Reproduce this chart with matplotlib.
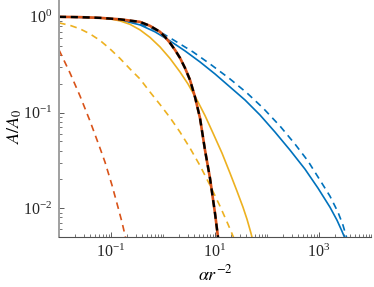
import numpy as np
import matplotlib
matplotlib.use("Agg")
import matplotlib.pyplot as plt
from matplotlib.ticker import LogLocator, LogFormatterMathtext, NullFormatter

plt.rcParams['font.family'] = 'serif'
plt.rcParams['font.serif'] = ['Liberation Serif', 'DejaVu Serif']
plt.rcParams['mathtext.fontset'] = 'stix'
plt.rcParams['axes.unicode_minus'] = False

# values (x = alpha r^-2, y = A/A0)
blue_x = [0.01, 0.0614, 0.149, 0.361, 0.702, 1.363, 2.649, 5.146, 10.0, 19.44, 37.76,
          73.35, 142.5, 276.9, 538, 957, 1627, 2219, 2769, 3093]
blue_y = [1.0, 0.976, 0.930, 0.824, 0.697, 0.561, 0.4406, 0.3379, 0.2530, 0.1849, 0.1352,
          0.0942, 0.0625, 0.0405, 0.0256, 0.0162, 0.01024, 0.00749, 0.00574, 0.00497]

blue_d_x = [0.01, 0.0614, 0.149, 0.361, 0.876, 1.701, 3.775, 8.01, 19.44, 41.25, 83.8,
            177.8, 345.5, 614.4, 1045, 1627, 2320, 2894, 3380]
blue_d_y = [1.0, 0.976, 0.930, 0.845, 0.697, 0.561, 0.43, 0.322, 0.2243, 0.16, 0.1115,
            0.0722, 0.0468, 0.0311, 0.01964, 0.01335, 0.00908, 0.00664, 0.00497]

yel_x = [0.01, 0.03947, 0.0957, 0.149, 0.2319, 0.361, 0.562, 0.876, 1.363, 2.123, 3.026,
         4.507, 6.42, 9.153, 13.63, 19.44, 26.49, 34.55, 41.25, 49.24, 51.46]
yel_y = [1.0, 0.988, 0.953, 0.908, 0.835, 0.731, 0.610, 0.485, 0.3676, 0.2655, 0.1988,
         0.1352, 0.0930, 0.0610, 0.0377, 0.02325, 0.01507, 0.01024, 0.00767, 0.00547, 0.00497]

yel_d_x = [0.01, 0.01628, 0.02535, 0.03947, 0.0614, 0.0957, 0.149, 0.2319, 0.361, 0.562,
           0.876, 1.363, 2.123, 3.305, 5.146, 8.01, 12.48, 17.78, 22.69]
yel_d_y = [0.865, 0.815, 0.749, 0.6637, 0.5674, 0.4623, 0.3676, 0.2854, 0.2243, 0.1639,
           0.1213, 0.0886, 0.0625, 0.0425, 0.02786, 0.0174, 0.0105, 0.0068, 0.00497]

red_d_x = [0.01, 0.01628, 0.02535, 0.03947, 0.0614, 0.0767, 0.1045, 0.1363, 0.1627, 0.19]
red_d_y = [0.451, 0.259, 0.149, 0.0815, 0.0425, 0.0303, 0.0174, 0.01024, 0.00714, 0.00497]

red_x = [0.01, 0.0254, 0.0614, 0.149, 0.361, 0.562, 0.876, 1.093, 1.363, 1.701, 2.123,
         2.649, 3.305, 4.125, 5.146, 6.42, 8.01, 10.0, 11.42]
red_y = [1.0, 0.993, 0.976, 0.942, 0.886, 0.805, 0.697, 0.617, 0.534, 0.451, 0.372,
         0.292, 0.219, 0.1453, 0.0876, 0.0405, 0.0206, 0.00886, 0.00497]

c_blue = '#0072BD'
c_red = '#D95319'
c_yel = '#EDB120'

fig = plt.figure(figsize=(3.74, 2.87), dpi=100)
ax = fig.add_axes([59/374, 50/287, 312/374, 237/287])

ax.plot(blue_x, blue_y, color=c_blue, lw=1.2)
ax.plot(blue_d_x, blue_d_y, color=c_blue, lw=1.2, dashes=(4, 3))
ax.plot(yel_x, yel_y, color=c_yel, lw=1.2)
ax.plot(yel_d_x, yel_d_y, color=c_yel, lw=1.2, dashes=(4, 3))
ax.plot(red_d_x, red_d_y, color=c_red, lw=1.2, dashes=(4, 3))
ax.plot(red_x, red_y, color=c_red, lw=1.9)
ax.plot(red_x, red_y, color='black', lw=1.7, dashes=(3, 2))

ax.set_xscale('log')
ax.set_yscale('log')
ax.set_xlim(1e-2, 1e4)
ax.set_ylim(0.005, 1.5)

ax.set_xticks([1e-1, 1e1, 1e3])
ax.xaxis.set_minor_locator(LogLocator(base=10, subs=np.arange(1, 10), numticks=40))
ax.xaxis.set_minor_formatter(NullFormatter())
ax.xaxis.set_major_formatter(LogFormatterMathtext())
ax.set_yticks([1e-2, 1e-1, 1e0])
ax.yaxis.set_minor_locator(LogLocator(base=10, subs=np.arange(2, 10), numticks=40))
ax.yaxis.set_minor_formatter(NullFormatter())
ax.yaxis.set_major_formatter(LogFormatterMathtext())

for s in ['top', 'right']:
    ax.spines[s].set_visible(False)
ax.spines['left'].set_color('#a0a0a0')
ax.spines['left'].set_linewidth(1.4)
ax.spines['bottom'].set_color('#505050')
ax.spines['bottom'].set_linewidth(0.8)

ax.tick_params(which='both', direction='in', colors='#404040', labelcolor='#262626', labelsize=11.5)
ax.tick_params(which='major', length=3.5, width=0.6, pad=5)
ax.tick_params(which='minor', length=2, width=0.5)

ax.set_xlabel(r'$\alpha r^{-2}$', fontsize=13, labelpad=2)
ax.set_ylabel(r'$A/A_0$', fontsize=13)
ax.yaxis.set_label_coords(-0.112, 0.47)

fig.savefig('out.png', dpi=100)
